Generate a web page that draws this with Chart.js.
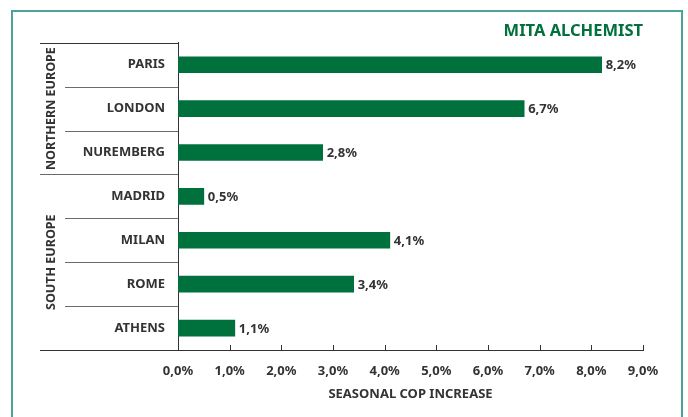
<!DOCTYPE html>
<html>
<head>
<meta charset="utf-8">
<script src="https://cdn.jsdelivr.net/npm/chart.js@4.4.1/dist/chart.umd.min.js"></script>
<style>
  html, body { margin: 0; padding: 0; background: #fff; }
  canvas { display: block; }
</style>
</head>
<body>
<canvas id="chart" width="688" height="417"></canvas>
<script>
  // data
  const cities = ["PARIS", "LONDON", "NUREMBERG", "MADRID", "MILAN", "ROME", "ATHENS"];
  const copIncrease = [8.2, 6.7, 2.8, 0.5, 4.1, 3.4, 1.1];
  const regions = ["NORTHERN EUROPE", "SOUTH EUROPE"];
  const regionSizes = [3, 4];
  const xMin = 0;
  const xMax = 9;
  const xStep = 1;

  const green = "#00703c";
  const dark = "#333333";
  const font = "'Noto Sans', 'DejaVu Sans', sans-serif";

  function pct(v) {
    return v.toFixed(1).replace(".", ",") + "%";
  }

  // frame, separators, group labels, value labels
  const decorations = {
    id: "decorations",
    beforeDraw(chart) {
      const ctx = chart.ctx;
      ctx.save();
      ctx.fillStyle = "#fff";
      ctx.fillRect(0, 0, chart.width, chart.height);
      ctx.strokeStyle = "#4aa399";
      ctx.lineWidth = 2;
      ctx.strokeRect(12, 11, chart.width - 18, chart.height + 20);
      ctx.restore();
    },
    afterDraw(chart) {
      const ctx = chart.ctx;
      const area = chart.chartArea;
      const y = chart.scales.y;
      const x = chart.scales.x;
      const step = (y.getPixelForValue(1) - y.getPixelForValue(0));
      const outerLeft = 40;
      const innerLeft = 65;

      ctx.save();
      // top line and bottom line left of the axis
      ctx.strokeStyle = dark;
      ctx.lineWidth = 1;
      ctx.beginPath();
      ctx.moveTo(outerLeft, Math.round(area.top) + 0.5);
      ctx.lineTo(area.left, Math.round(area.top) + 0.5);
      ctx.moveTo(outerLeft, Math.round(area.bottom) + 0.5);
      ctx.lineTo(area.left, Math.round(area.bottom) + 0.5);
      ctx.stroke();

      // row separators
      let groupEnd = regionSizes[0];
      ctx.strokeStyle = "#6b6b6b";
      for (let i = 1; i < cities.length; i++) {
        const py = Math.round(y.getPixelForValue(i) - step / 2) + 0.5;
        ctx.beginPath();
        ctx.moveTo(i === groupEnd ? outerLeft : innerLeft, py);
        ctx.lineTo(area.left, py);
        ctx.stroke();
      }

      // x ticks pointing up
      ctx.strokeStyle = dark;
      x.ticks.forEach((t) => {
        const px = Math.round(x.getPixelForValue(t.value)) + 0.5;
        ctx.beginPath();
        ctx.moveTo(px, area.bottom);
        ctx.lineTo(px, area.bottom - 5);
        ctx.stroke();
      });

      // group labels
      ctx.fillStyle = dark;
      ctx.font = "bold 12.5px " + font;
      ctx.textAlign = "center";
      ctx.textBaseline = "middle";
      let start = 0;
      regions.forEach((name, k) => {
        const end = start + regionSizes[k] - 1;
        const top = y.getPixelForValue(start) - step / 2;
        const bottom = y.getPixelForValue(end) + step / 2;
        ctx.save();
        ctx.translate(51, (top + bottom) / 2);
        ctx.rotate(-Math.PI / 2);
        ctx.fillText(name, 0, 0);
        ctx.restore();
        start = end + 1;
      });

      // value labels
      ctx.font = "bold 13px " + font;
      ctx.textAlign = "left";
      const meta = chart.getDatasetMeta(0);
      meta.data.forEach((bar, i) => {
        ctx.fillText(pct(copIncrease[i]), bar.x + 4, bar.y + 1);
      });
      ctx.restore();
    },
  };

  new Chart(document.getElementById("chart"), {
    type: "bar",
    data: {
      labels: cities,
      datasets: [
        {
          data: copIncrease,
          backgroundColor: green,
          barThickness: 16,
        },
      ],
    },
    options: {
      indexAxis: "y",
      responsive: false,
      animation: false,
      layout: { padding: { left: 0, right: 45, top: 0, bottom: 0 } },
      plugins: {
        legend: { display: false },
        tooltip: { enabled: false },
        title: {
          display: true,
          text: "MITA ALCHEMIST",
          align: "end",
          color: green,
          font: { family: font, size: 16.5, weight: "bold" },
          padding: { top: 21, bottom: 2 },
        },
      },
      scales: {
        x: {
          min: xMin,
          max: xMax,
          ticks: {
            stepSize: xStep,
            color: dark,
            padding: 13,
            font: { family: font, size: 13, weight: "bold" },
            callback: (v) => pct(v),
          },
          grid: { display: false, drawTicks: false },
          border: { display: true, color: dark, width: 1 },
          title: {
            display: true,
            text: "SEASONAL COP INCREASE",
            color: dark,
            font: { family: font, size: 13, weight: "bold" },
            padding: { top: 0, bottom: 15 },
          },
          afterFit(scale) {
            scale.height = 67;
          },
        },
        y: {
          ticks: {
            color: dark,
            padding: 13,
            font: { family: font, size: 13, weight: "bold" },
          },
          grid: { display: false, drawTicks: false },
          border: { display: true, color: dark, width: 1 },
          afterFit(scale) {
            scale.width = 178;
          },
        },
      },
    },
    plugins: [decorations],
  });
</script>
</body>
</html>
